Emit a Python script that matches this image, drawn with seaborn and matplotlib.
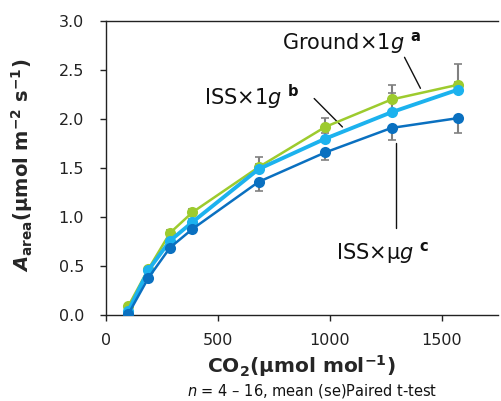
import matplotlib
matplotlib.use("Agg")
import matplotlib.pyplot as plt
import seaborn as sns
import pandas as pd
import numpy as np

# ---- data ----
co2 = [100, 190, 287, 387, 682, 979, 1275, 1571]
ground_1g = [0.09, 0.47, 0.84, 1.05, 1.51, 1.92, 2.20, 2.35]
iss_1g = [0.04, 0.46, 0.76, 0.95, 1.49, 1.80, 2.07, 2.30]
iss_ug = [0.01, 0.38, 0.69, 0.88, 1.36, 1.66, 1.91, 2.01]
ground_se = [0.01, 0.02, 0.03, 0.03, 0.10, 0.09, 0.15, 0.21]
iss_1g_se = [0.01, 0.02, 0.03, 0.03, 0.05, 0.06, 0.20, 0.08]
iss_ug_se = [0.01, 0.02, 0.03, 0.04, 0.09, 0.08, 0.12, 0.15]

series_names = ["Ground×1g", "ISS×1g", "ISS×μg"]
colors = ["#9DCB2E", "#1CB2EE", "#0A70C0"]
widths = [1.8, 2.8, 1.8]

sns.set_style("ticks")
plt.rcParams["font.family"] = ["DejaVu Sans"]
plt.rcParams["mathtext.default"] = "regular"
plt.rcParams["mathtext.fontset"] = "dejavusans"

fig = plt.figure(figsize=(5.01, 4.01), dpi=100)
ax = fig.add_axes([0.211, 0.2137, 0.783, 0.7339])

df = pd.DataFrame({
    "CO2": co2 * 3,
    "A": ground_1g + iss_1g + iss_ug,
    "series": sum([[n] * len(co2) for n in series_names], []),
})

vals = [ground_1g, iss_1g, iss_ug]
ses = [ground_se, iss_1g_se, iss_ug_se]
dirs = ["up", "up", "down"]

# error bars (one-sided, gray) behind the markers
for v, s, d in zip(vals, ses, dirs):
    v = np.array(v); s = np.array(s)
    if d == "up":
        yerr = [np.zeros_like(s), s]
    else:
        yerr = [s, np.zeros_like(s)]
    ax.errorbar(co2, v, yerr=yerr, fmt="none", ecolor="#808080",
                elinewidth=1.5, capsize=3, capthick=1.2, zorder=1)

for name, c, w in zip(series_names, colors, widths):
    sub = df[df["series"] == name]
    sns.lineplot(data=sub, x="CO2", y="A", ax=ax, color=c, linewidth=w,
                 marker="o", markersize=8, markeredgewidth=0,
                 markeredgecolor=c, zorder=3, legend=False)

ax.set_xlim(0, 1750)
ax.set_ylim(0, 3.0)
ax.set_xticks([0, 500, 1000, 1500])
ax.set_yticks([0.0, 0.5, 1.0, 1.5, 2.0, 2.5, 3.0])
ax.set_yticklabels([f"{t:.1f}" for t in [0.0, 0.5, 1.0, 1.5, 2.0, 2.5, 3.0]])
ax.tick_params(axis="both", labelsize=11.5, length=4.5, width=1,
               color="#222222", labelcolor="#222222")
ax.tick_params(axis="y", pad=11)
ax.tick_params(axis="x", pad=8)

for side in ["left", "bottom", "top"]:
    ax.spines[side].set_color("#222222")
    ax.spines[side].set_linewidth(1.0)
ax.spines["right"].set_visible(False)

ax.set_xlabel(r"CO$_2$(μmol mol$^{−1}$)", fontsize=14.5, fontweight="bold")
ax.set_ylabel(r"$\mathbfit{A}$$_{area}$(μmol m$^{−2}$ s$^{−1}$)", fontsize=14,
              fontweight="bold")
ax.yaxis.set_label_coords(-0.18, 0.51)
ax.xaxis.set_label_coords(0.498, -0.13)

# annotations with leader lines
ax.text(788, 2.78, r"Ground×1$\mathit{g}$ $^{\mathbf{a}}$", fontsize=15,
        ha="left", va="center", color="#111111")
ax.plot([1333, 1404], [2.63, 2.314], color="#111111", lw=1.0)

ax.text(437, 2.225, r"ISS×1$\mathit{g}$ $^{\mathbf{b}}$", fontsize=15,
        ha="left", va="center", color="#111111")
ax.plot([930, 1056], [2.21, 1.92], color="#111111", lw=1.0)

ax.text(1029, 0.632, r"ISS×μ$\mathit{g}$ $^{\mathbf{c}}$", fontsize=15,
        ha="left", va="center", color="#111111")
ax.plot([1296, 1296], [1.76, 0.893], color="#111111", lw=1.0)

fig.text(0.623, 0.026, r"$\mathit{n}$ = 4 – 16, mean (se)Paired t-test",
         fontsize=10.5, ha="center", va="center", color="#111111")

fig.savefig("out.png", dpi=100)
